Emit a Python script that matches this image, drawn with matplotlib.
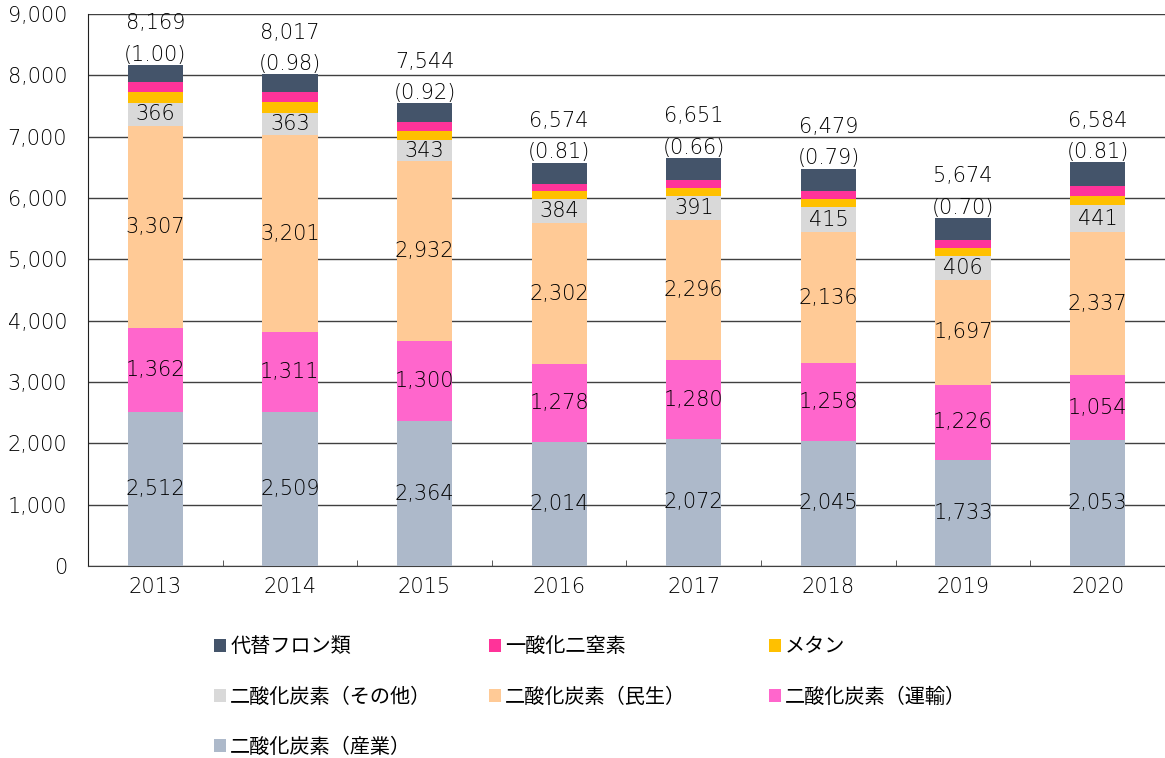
import numpy as np
import matplotlib.pyplot as plt

plt.rcParams['font.family'] = ['Noto Sans CJK JP', 'DejaVu Sans']

years = ['2013', '2014', '2015', '2016', '2017', '2018', '2019', '2020']
sangyo = [2512, 2509, 2364, 2014, 2072, 2045, 1733, 2053]
unyu = [1362, 1311, 1300, 1278, 1280, 1258, 1226, 1054]
minsei = [3307, 3201, 2932, 2302, 2296, 2136, 1697, 2337]
sonota = [366, 363, 343, 384, 391, 415, 406, 441]
methane = [177, 187, 149, 132, 132, 132, 126, 146]
n2o = [165, 151, 153, 122, 121, 126, 120, 163]
freon = [280, 295, 303, 342, 359, 367, 366, 390]
totals = [8169, 8017, 7544, 6574, 6651, 6479, 5674, 6584]
ratios = ['(1.00)', '(0.98)', '(0.92)', '(0.81)', '(0.66)', '(0.79)', '(0.70)', '(0.81)']

series = [
    ('二酸化炭素（産業）', sangyo, '#ADB9CA', True),
    ('二酸化炭素（運輸）', unyu, '#FF66CC', True),
    ('二酸化炭素（民生）', minsei, '#FFCA96', True),
    ('二酸化炭素（その他）', sonota, '#D9D9D9', True),
    ('メタン', methane, '#FFC000', False),
    ('一酸化二窒素', n2o, '#FF3399', False),
    ('代替フロン類', freon, '#44546A', False),
]

num = dict(family='DejaVu Sans', fontsize=15, color='black', fontweight='light')

fig = plt.figure(figsize=(11.65, 7.58), dpi=100)
ax = fig.add_axes([0.0755, 0.2533, 0.9245, 0.7282])

x = np.arange(len(years))
bottom = np.zeros(len(years))
handles = {}
for name, vals, col, lab in series:
    vals = np.array(vals, dtype=float)
    b = ax.bar(x, vals, 0.41, bottom=bottom, color=col, zorder=3, label=name)
    handles[name] = b
    if lab:
        for xi, bo, v in zip(x, bottom, vals):
            ax.text(xi, bo + v / 2, f'{int(v):,}', ha='center', va='center',
                    zorder=4, **num)
    bottom += vals

for xi, top, t, r in zip(x, bottom, totals, ratios):
    ax.annotate(r, (xi, top), xytext=(0, 7.5), textcoords='offset points',
                ha='center', va='center', **num)
    ax.annotate(f'{t:,}', (xi, top), xytext=(0, 30), textcoords='offset points',
                ha='center', va='center', **num)

ax.set_xlim(-0.5, 7.5)
ax.set_ylim(0, 9000)
ax.set_yticks(range(0, 9001, 1000))
ax.set_yticklabels([f'{v:,}' for v in range(0, 9001, 1000)], **num)
ax.set_xticks(x)
ax.set_xticklabels(years, **num)
ax.set_xticks(np.arange(-0.5, 8, 1), minor=True)
ax.yaxis.grid(True, color='#404040', lw=1, zorder=0)
for s in ['right', 'top']:
    ax.spines[s].set_visible(False)
ax.spines['bottom'].set_color('#404040')
ax.spines['left'].set_color('#202020')
ax.tick_params(axis='y', length=0, pad=15)
ax.tick_params(axis='x', which='major', length=0, pad=8)
ax.tick_params(axis='x', which='minor', length=4, direction='in', color='#404040')

cols = [['代替フロン類', '二酸化炭素（その他）', '二酸化炭素（産業）'],
        ['一酸化二窒素', '二酸化炭素（民生）'],
        ['メタン', '二酸化炭素（運輸）']]
xpos = [0.177, 0.413, 0.653]
for names, xp in zip(cols, xpos):
    fig.legend([handles[n] for n in names], names, loc='upper left',
               bbox_to_anchor=(xp, 0.171), frameon=False, fontsize=14.5,
               handlelength=0.6, handleheight=0.6, handletextpad=0.2,
               labelspacing=1.45, borderaxespad=0)

fig.savefig('out.png', dpi=100)
